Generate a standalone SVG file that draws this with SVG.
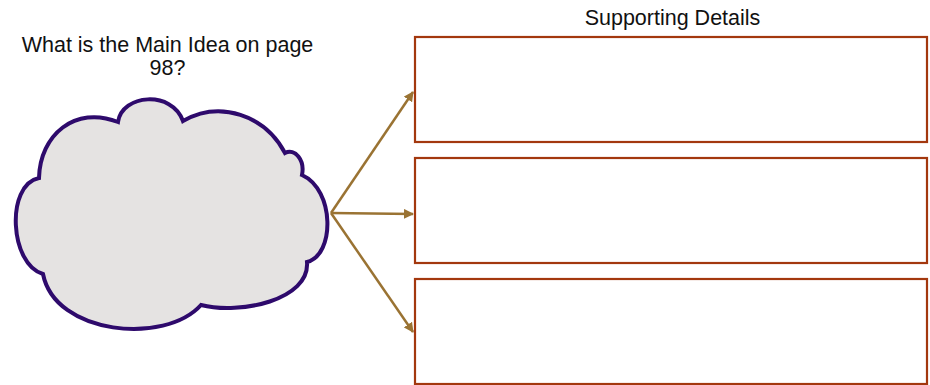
<svg xmlns="http://www.w3.org/2000/svg" width="930" height="385" viewBox="0 0 930 385">
<style>
.t{font-family:"Liberation Sans",Arial,sans-serif;font-size:21.5px;fill:#111;text-anchor:middle}
.box{fill:#fff;stroke:#a3380e;stroke-width:2.2}
.con{stroke:#9a7333;stroke-width:2.5;fill:none;marker-end:url(#ah)}
</style>
<defs>
<marker id="ah" viewBox="0 0 10 10" refX="9" refY="5" markerWidth="4" markerHeight="4" orient="auto" markerUnits="strokeWidth">
<path d="M0,0 L10,5 L0,10 z" fill="#9a7333"/>
</marker>
</defs>
<rect width="930" height="385" fill="#fff"/>
<g id="title-main">
<text class="t" x="167.5" y="52">What is the Main Idea on page</text>
<text class="t" x="167.5" y="75">98?</text>
</g>
<g id="title-details">
<text class="t" x="672.5" y="25">Supporting Details</text>
</g>
<g id="connectors">
<line class="con" x1="331" y1="213" x2="413" y2="92"/>
<line class="con" x1="331" y1="213" x2="413" y2="214"/>
<line class="con" x1="331" y1="213" x2="413" y2="332"/>
</g>
<g id="cloud">
<path d="M39,178 C40,135 75,105 118,122 C122,94 172,90 183,121 C220,100 265,115 285,153 C295,148 305,160 302,175 C335,190 335,255 307,262 C310,300 240,315 201,305 C165,345 55,335 43,274 C10,265 5,185 39,178 Z" fill="#e5e3e2" stroke="#2e0a6c" stroke-width="4" stroke-linejoin="miter"/>
</g>
<g id="box1"><rect class="box" x="415" y="37" width="512" height="105"/></g>
<g id="box2"><rect class="box" x="415" y="158" width="512" height="105"/></g>
<g id="box3"><rect class="box" x="415" y="279" width="512" height="105"/></g>
</svg>
